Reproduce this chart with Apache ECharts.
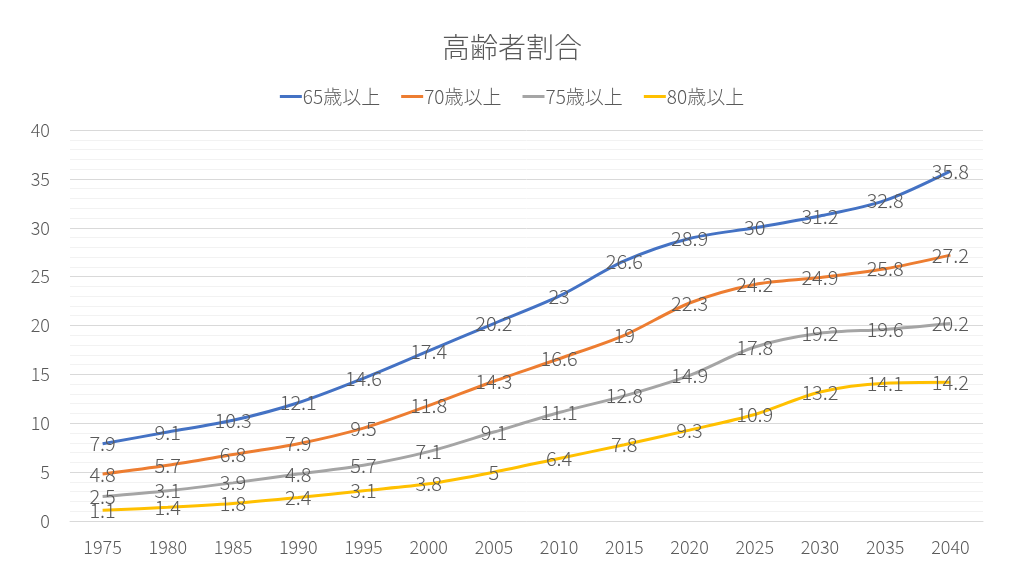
<!DOCTYPE html>
<html><head><meta charset="utf-8">
<script src="https://cdn.jsdelivr.net/npm/echarts@6/dist/echarts.min.js"></script>
<style>html,body{margin:0;padding:0;background:#fff}#c{width:1024px;height:576px}</style>
</head><body><div id="c"></div>
<script>
const categories = ['1975','1980','1985','1990','1995','2000','2005','2010','2015','2020','2025','2030','2035','2040'];
const s65 = [7.9, 9.1, 10.3, 12.1, 14.6, 17.4, 20.2, 23, 26.6, 28.9, 30, 31.2, 32.8, 35.8];
const s70 = [4.8, 5.7, 6.8, 7.9, 9.5, 11.8, 14.3, 16.6, 19, 22.3, 24.2, 24.9, 25.8, 27.2];
const s75 = [2.5, 3.1, 3.9, 4.8, 5.7, 7.1, 9.1, 11.1, 12.8, 14.9, 17.8, 19.2, 19.6, 20.2];
const s80 = [1.1, 1.4, 1.8, 2.4, 3.1, 3.8, 5, 6.4, 7.8, 9.3, 10.9, 13.2, 14.1, 14.2];
const names = ['65歳以上','70歳以上','75歳以上','80歳以上'];
const colors = ['#4472C4','#ED7D31','#A5A5A5','#FFC000'];
const font = '"Noto Sans CJK JP", "Noto Sans", sans-serif';
const chart = echarts.init(document.getElementById('c'));
const mk = (name, data, color) => ({
  name, type: 'line', data, smooth: 0.3, symbol: 'circle', symbolSize: 0.01, showSymbol: true,
  lineStyle: {color, width: 3}, itemStyle: {color},
  label: {show: true, position: 'inside', offset: [2, 0], fontSize: 20, color: '#595959', fontFamily: font, fontWeight: 300},
  labelLayout: {hideOverlap: false}
});
chart.setOption({
  animation: false,
  color: colors,
  title: {text: '高齢者割合', left: 'center', top: 28, textStyle: {fontSize: 28, fontWeight: 300, color: '#595959', fontFamily: font}},
  legend: {top: 82, left: 'center', itemGap: 21, itemWidth: 22, itemHeight: 3, icon: 'rect',
    textStyle: {fontSize: 19, color: '#595959', fontFamily: font, fontWeight: 300, padding: [0,0,0,-4]}, data: names},
  grid: {left: 70, right: 41, top: 130, bottom: 55, containLabel: false},
  xAxis: {type: 'category', data: categories, boundaryGap: true,
    axisLine: {lineStyle: {color: '#D9D9D9', width: 1}}, axisTick: {show: false},
    axisLabel: {fontSize: 18, color: '#595959', fontFamily: font, fontWeight: 300, margin: 17}},
  yAxis: {type: 'value', min: 0, max: 40, interval: 5,
    axisLine: {show: false}, axisTick: {show: false},
    axisLabel: {fontSize: 18, color: '#595959', fontFamily: font, fontWeight: 300, margin: 20},
    splitLine: {lineStyle: {color: '#D9D9D9'}},
    minorTick: {show: false, splitNumber: 5},
    minorSplitLine: {show: true, lineStyle: {color: '#F2F2F2'}}},
  series: [mk(names[0], s65, colors[0]), mk(names[1], s70, colors[1]), mk(names[2], s75, colors[2]), mk(names[3], s80, colors[3])]
});
</script></body></html>
